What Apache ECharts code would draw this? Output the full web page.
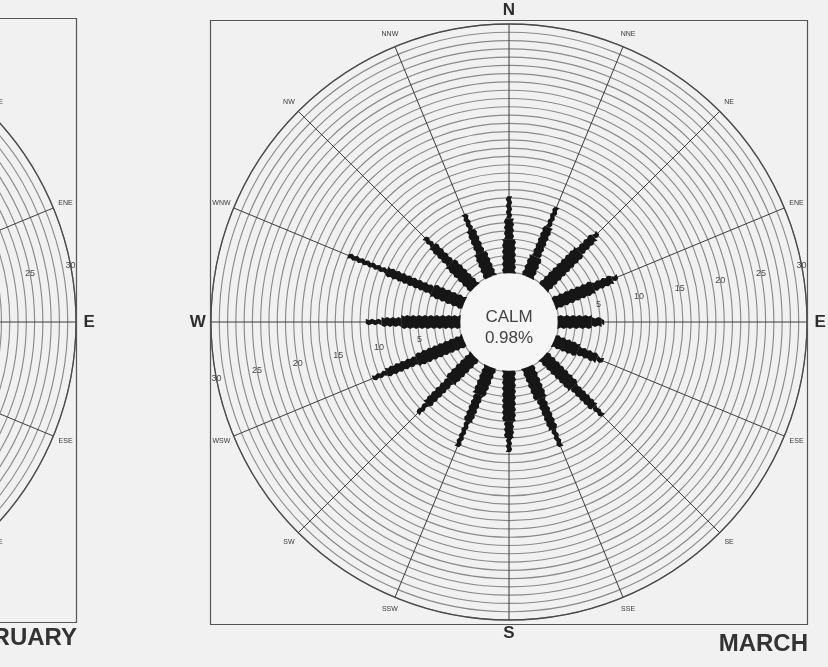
<!DOCTYPE html>
<html>
<head>
<meta charset="utf-8">
<script src="https://cdn.jsdelivr.net/npm/echarts@6/dist/echarts.min.js"></script>
<style>
  html, body { margin: 0; padding: 0; background: #f1f1f1; }
  #chart { width: 828px; height: 667px; }
</style>
</head>
<body>
<div id="chart"></div>
<script>
// Sixteen compass sectors, bearings clockwise from north
const directions = ['N', 'NNE', 'NE', 'ENE', 'E', 'ESE', 'SE', 'SSE', 'S', 'SSW', 'SW', 'WSW', 'W', 'WNW', 'NW', 'NNW'];
const bearings = [0, 22.5, 45, 67.5, 90, 112.5, 135, 157.5, 180, 202.5, 225, 247.5, 270, 292.5, 315, 337.5];

// March frequency (%) per sector, three speed classes stacked outward from the calm circle
const speedClass1 = [4.0, 2.5, 6.0, 5.0, 4.0, 3.0, 5.0, 4.0, 6.0, 3.5, 4.0, 6.0, 7.0, 4.0, 4.0, 3.0];
const speedClass2 = [2.5, 3.9, 2.5, 2.5, 1.2, 2.5, 3.5, 4.0, 2.0, 3.5, 4.0, 4.0, 2.4, 6.0, 3.0, 3.0];
const speedClass3 = [2.7, 2.6, 0.7, 0.7, 0.3, 0.8, 1.5, 2.3, 1.7, 3.3, 1.6, 1.8, 1.9, 5.0, 1.4, 2.1];

const calmPercent = 0.98;
const ringLabels = [5, 10, 15, 20, 25, 30];
const ringLabelBearings = [79, 259];
const cardinal = ['N', 'E', 'S', 'W'];

const FONT = '"Liberation Sans", Arial, sans-serif';
const RMIN = -6, RMAX = 30, LABEL_R = 31.6;

const chart = echarts.init(document.getElementById('chart'), null, { renderer: 'canvas' });

function angleAxis(idx) {
  return {
    polarIndex: idx, type: 'value', min: 0, max: 360, interval: 22.5,
    startAngle: 90, clockwise: true,
    axisLine: { show: true, lineStyle: { color: '#4a4a4a', width: 1.3 } },
    axisTick: { show: false }, axisLabel: { show: false },
    splitLine: { show: true, lineStyle: { color: '#3c3c3c', width: 1 } }
  };
}
function radiusAxis(idx) {
  return {
    polarIndex: idx, type: 'value', min: RMIN, max: RMAX, interval: 1,
    axisLine: { show: false }, axisTick: { show: false }, axisLabel: { show: false },
    splitLine: { show: true, lineStyle: { color: '#8a8a8a', width: 1.15 } }
  };
}

// Serrated bar segment between two radii along one bearing
function petalSegment(api, ang, r0, r1, halfW) {
  const a = api.coord([r0, ang]), b = api.coord([r1, ang]);
  const dx = b[0] - a[0], dy = b[1] - a[1];
  const len = Math.hypot(dx, dy) || 1;
  const ux = dx / len, uy = dy / len, nx = -uy, ny = ux;
  const steps = Math.max(1, Math.round(len / 3));
  const pts = [];
  for (let s = 0; s <= steps; s++) {
    const t = s / steps * len, w = halfW + (s % 2 ? 1.5 : 0);
    pts.push([a[0] + ux * t + nx * w, a[1] + uy * t + ny * w]);
  }
  for (let s = steps; s >= 0; s--) {
    const t = s / steps * len, w = halfW + ((s + 1) % 2 ? 1.5 : 0);
    pts.push([a[0] + ux * t - nx * w, a[1] + uy * t - ny * w]);
  }
  return { type: 'polygon', shape: { points: pts }, style: { fill: '#161616' } };
}

const petalData = bearings.map((b, i) => [speedClass1[i], b, speedClass1[i], speedClass2[i], speedClass3[i]]);

function textEl(text, x, y, font, fill) {
  return { type: 'text', style: { text, x, y, font, fill,
    align: 'center', verticalAlign: 'middle', textAlign: 'center', textVerticalAlign: 'middle' } };
}

// Compass names just outside the outer ring
function dirLabelSeries(idx) {
  return {
    type: 'custom', coordinateSystem: 'polar', polarIndex: idx, clip: false, silent: true,
    encode: { radius: 0, angle: 1 },
    data: directions.map((d, i) => [LABEL_R, bearings[i]]),
    renderItem(params, api) {
      const p = api.coord([api.value(0), api.value(1)]);
      const d = directions[params.dataIndex];
      return cardinal.includes(d)
        ? textEl(d, p[0], p[1], 'bold 17px ' + FONT, '#2e2e2e')
        : textEl(d, p[0], p[1], '7px ' + FONT, '#3a3a3a');
    },
    z: 5
  };
}

// Percent values written on the rings
const ringData = [];
ringLabelBearings.forEach(b => ringLabels.forEach(v => ringData.push([v, b])));
function ringLabelSeries(idx) {
  return {
    type: 'custom', coordinateSystem: 'polar', polarIndex: idx, clip: false, silent: true,
    encode: { radius: 0, angle: 1 },
    data: ringData,
    renderItem(params, api) {
      const p = api.coord([api.value(0), api.value(1)]);
      return textEl(String(api.value(0)), p[0], p[1], '9px ' + FONT, '#4a4a4a');
    },
    z: 5
  };
}

const option = {
  backgroundColor: '#f1f1f1',
  animation: false,
  polar: [
    { center: [509, 322], radius: 298 },
    { center: [-222, 322], radius: 298 }
  ],
  angleAxis: [angleAxis(0), angleAxis(1)],
  radiusAxis: [radiusAxis(0), radiusAxis(1)],
  series: [
    {
      type: 'custom', coordinateSystem: 'polar', polarIndex: 0, clip: false,
      encode: { radius: 0, angle: 1 },
      data: petalData,
      renderItem(params, api) {
        const ang = api.value(1);
        const vals = [api.value(2), api.value(3), api.value(4)];
        const halfW = [5.5, 3.6, 1.7];
        const children = [];
        let start = -0.5;
        let acc = 0;
        vals.forEach((v, k) => {
          acc += v;
          children.push(petalSegment(api, ang, start, acc, halfW[k]));
          start = acc;
        });
        return { type: 'group', children };
      },
      z: 3
    },
    {
      // calm circle at the hub, edge at the zero ring
      type: 'custom', coordinateSystem: 'polar', polarIndex: 0, clip: false,
      encode: { radius: 0, angle: 1 },
      data: [[0, 0, calmPercent]],
      renderItem(params, api) {
        const c = api.coord([RMIN, 0]);
        const e = api.coord([0, 0]);
        const r = Math.hypot(e[0] - c[0], e[1] - c[1]) - 1;
        const pct = api.value(2).toFixed(2) + '%';
        return {
          type: 'group',
          children: [
            { type: 'circle', shape: { cx: c[0], cy: c[1], r }, style: { fill: '#f6f6f6', stroke: null } },
            textEl('CALM', c[0], c[1] - 5, '17px ' + FONT, '#444'),
            textEl(pct, c[0], c[1] + 16, '17px ' + FONT, '#444')
          ]
        };
      },
      z: 4
    },
    dirLabelSeries(0), ringLabelSeries(0),
    dirLabelSeries(1), ringLabelSeries(1)
  ],
  graphic: [
    { type: 'rect', shape: { x: 210.5, y: 20.5, width: 597, height: 604 }, style: { fill: null, stroke: '#555', lineWidth: 1.2 }, z: 1 },
    { type: 'rect', shape: { x: -300, y: 18.5, width: 376.5, height: 604 }, style: { fill: null, stroke: '#555', lineWidth: 1.2 }, z: 1 },
    { type: 'text', style: { text: 'MARCH', x: 808, y: 644, fill: '#333', font: 'bold 24px ' + FONT,
      align: 'right', verticalAlign: 'middle', textAlign: 'right', textVerticalAlign: 'middle' }, z: 6 },
    { type: 'text', style: { text: 'FEBRUARY', x: 77, y: 638, fill: '#333', font: 'bold 24px ' + FONT,
      align: 'right', verticalAlign: 'middle', textAlign: 'right', textVerticalAlign: 'middle' }, z: 6 }
  ]
};

chart.setOption(option);
</script>
</body>
</html>
